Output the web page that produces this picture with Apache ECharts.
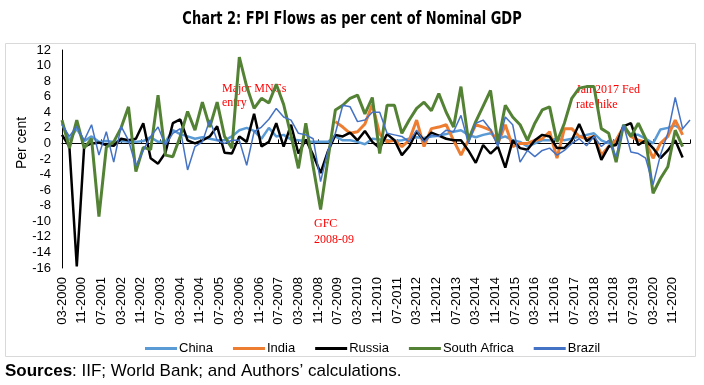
<!DOCTYPE html>
<html>
<head>
<meta charset="utf-8">
<script src="https://cdn.jsdelivr.net/npm/echarts@6/dist/echarts.min.js"></script>
<style>html,body{margin:0;padding:0;background:#fff}#c{width:704px;height:385px}</style>
</head>
<body>
<div id="c"></div>
<script>
// Quarterly observations, first point = 03-2000, one value per quarter
const seriesNames = ['China', 'India', 'Russia', 'South Africa', 'Brazil'];
const tickLabels = ['03-2000','11-2000','07-2001','03-2002','11-2002','07-2003','03-2004','11-2004','07-2005','03-2006','11-2006','07-2007','03-2008','11-2008','07-2009','03-2010','11-2010','07-2011','03-2012','11-2012','07-2013','03-2014','11-2014','07-2015','03-2016','11-2016','07-2017','03-2018','11-2018','07-2019','03-2020','11-2020'];

const china = [2.6,0.4,1.9,0.3,0.9,0.2,0.3,0.2,0.3,0.2,0.2,0.3,0.8,0.2,0.2,
  1.7,1.2,0.9,0.6,0.8,0.6,0.4,0.4,0.9,1.7,2.0,1.6,0.6,2.0,
  0.9,1.1,0.5,0.4,0.3,0.2,0.2,0.2,0.9,0.4,0.4,0.2,-0.1,0.6,0.5,
  0.4,0.3,0.4,0.6,0.8,0.7,0.9,1.0,1.2,1.5,1.7,1.1,0.8,1.1,
  1.3,0.6,0.9,0.4,0.2,-0.4,0.0,0.4,0.4,0.6,0.4,0.6,0.9,1.1,
  1.3,0.4,0.0,0.4,2.1,1.1,1.1,0.6,0.0,1.8,2.0,2.3,1.7];

const india = [null,null,null,null,null,null,null,null,null,null,null,null,null,null,null,
  null,null,null,null,null,null,null,null,null,null,null,null,null,null,
  null,null,null,null,null,null,null,null,2.8,2.1,1.3,1.5,2.5,5.0,1.2,
  0.2,0.4,-0.4,0.4,3.0,-0.4,1.9,2.1,2.4,0.4,-1.5,0.4,2.4,2.1,
  1.7,0.0,2.4,-0.4,0.0,0.0,0.4,0.6,1.5,-1.9,1.9,1.9,0.9,0.6,
  0.9,-1.5,-0.4,0.4,2.1,0.9,0.4,0.2,-1.9,0.0,0.9,3.0,1.1];

const russia = [1.1,-0.4,-15.8,-0.4,0.0,0.1,-0.2,-0.3,0.6,0.4,0.6,2.6,-1.9,-2.6,-1.2,
  2.6,3.1,0.4,0.0,0.4,0.9,2.2,-1.2,-1.3,0.9,0.2,3.8,-0.4,0.2,
  2.6,-0.4,2.4,-1.3,0.5,-1.5,-3.8,-1.0,1.1,0.9,1.4,0.4,1.6,0.2,-0.6,
  1.2,0.4,-1.5,-0.4,1.5,0.4,1.4,1.0,0.6,0.4,0.4,-0.9,-2.5,-0.2,
  -1.3,-0.4,-3.1,0.4,-0.6,-0.8,0.4,1.1,0.9,-0.6,-0.6,0.4,2.5,0.3,
  0.9,-2.1,-0.4,-0.2,2.2,2.6,-0.2,0.4,-0.6,-1.9,-0.9,0.4,-1.8];

const southAfrica = [3.0,-0.6,3.0,-0.6,0.6,-9.4,-0.5,0.2,2.0,4.7,-3.6,-0.5,-0.8,6.2,-1.5,
  -1.7,0.9,4.1,1.7,5.3,2.1,5.3,0.9,-0.6,11.1,7.3,4.5,5.8,5.2,
  7.6,5.0,1.0,-3.2,2.6,-3.0,-8.5,-2.0,4.3,4.9,5.8,6.2,3.8,5.9,-1.3,
  4.9,4.9,1.3,3.0,4.5,5.3,4.2,6.4,4.0,2.1,7.3,0.4,2.8,4.8,
  6.8,0.0,4.9,3.4,2.4,0.4,2.6,4.3,4.7,0.2,2.6,5.8,7.1,7.3,
  7.3,1.9,1.3,-2.4,2.4,0.9,2.6,0.6,-6.4,-4.5,-3.0,1.7,-0.4];

const brazil = [2.4,0.9,2.2,0.4,2.4,-1.5,1.5,-2.4,2.2,0.4,-2.9,-0.9,0.9,2.1,-0.2,
  1.3,1.9,-3.4,-0.4,0.2,3.0,0.4,0.0,0.4,0.4,-2.8,1.5,2.1,3.1,
  4.5,3.4,3.0,1.3,1.1,0.6,-4.9,-0.9,1.3,4.9,4.7,2.8,3.0,4.0,4.0,
  1.3,1.1,0.9,0.2,1.7,0.2,1.1,0.9,1.7,1.5,3.6,0.0,2.6,3.0,
  1.8,-0.4,3.4,2.4,-2.4,-0.9,-1.7,-0.9,-0.6,-1.5,-0.9,0.0,0.6,-0.3,
  0.9,-0.4,0.4,-1.7,2.4,-1.1,-1.3,-1.9,-5.3,-1.5,1.3,5.9,1.9,3.0];

const colors = ['#5B9BD5', '#ED7D31', '#000000', '#548235', '#4472C4'];
const widths = [2.5, 3, 2.5, 3, 1.5];
const values = [china, india, russia, southAfrica, brazil];

// month offset from 03-2000 for each quarterly point
function toPairs(arr) { return arr.map((v, i) => [i * 3, v]); }

const FONT = "'Liberation Sans', Arial, sans-serif";
const SERIF = "'Liberation Serif', 'Times New Roman', serif";

const chart = echarts.init(document.getElementById('c'), null, { renderer: 'canvas' });
chart.setOption({
  backgroundColor: '#ffffff',
  animation: false,
  grid: { left: 62, right: 14, top: 50, bottom: 117 },
  legend: {
    data: seriesNames,
    left: 140, top: 337,
    icon: 'rect', itemWidth: 32, itemHeight: 3, itemGap: 20,
    textStyle: { fontFamily: FONT, fontSize: 13, color: '#000', padding: [0, 0, 0, -3] }
  },
  xAxis: [{
    type: 'value', min: 0, max: 255, interval: 8,
    axisLine: { show: false, onZero: false },
    axisTick: { show: false },
    splitLine: { show: false },
    axisLabel: {
      rotate: 90, margin: 9, fontFamily: FONT, fontSize: 13, color: '#000',
      showMinLabel: true, showMaxLabel: true,
      formatter: v => (v % 8 === 0 && tickLabels[v / 8]) ? tickLabels[v / 8] : ''
    }
  }, {
    type: 'value', min: 0, max: 255, interval: 8,
    axisLine: { show: true, onZero: true, lineStyle: { color: '#000', width: 1 } },
    axisTick: { show: true, length: 4, lineStyle: { color: '#000' } },
    axisLabel: { show: false },
    splitLine: { show: false }
  }],
  yAxis: {
    type: 'value', min: -16, max: 12, interval: 2,
    axisLine: { show: true, onZero: false, lineStyle: { color: '#000', width: 1 } },
    axisTick: { show: false },
    splitLine: { show: false },
    axisLabel: { fontFamily: FONT, fontSize: 13, color: '#000', margin: 11 }
  },
  series: seriesNames.map((n, k) => ({
    name: n, type: 'line', xAxisIndex: 0,
    data: toPairs(values[k]),
    showSymbol: false, symbol: 'none',
    connectNulls: false,
    itemStyle: { color: colors[k] },
    lineStyle: { color: colors[k], width: widths[k] },
    z: 2 + k
  })),
  graphic: [
    { type: 'rect', shape: { x: 5.5, y: 43.5, width: 690, height: 313 },
      style: { fill: 'none', stroke: '#D9D9D9', lineWidth: 1 }, z: -1 },
    { type: 'text', x: 352, y: 20, scaleX: 0.85,
      style: { text: 'Chart 2: FPI Flows as per cent of Nominal GDP', x: 0, y: 0,
      textAlign: 'center', textVerticalAlign: 'middle',
      font: "bold 17px 'Liberation Sans Narrow', 'Arial Narrow', 'DejaVu Sans Condensed', sans-serif", fill: '#000' } },
    { type: 'text', rotation: Math.PI / 2, x: 22, y: 143,
      style: { text: 'Per cent', x: 0, y: 0, textAlign: 'center', textVerticalAlign: 'middle',
        font: "14px " + FONT, fill: '#000' } },
    { type: 'text', style: { text: 'Major MNCs\nentry', x: 222, y: 82, font: '12px ' + SERIF,
      fill: '#FF0000', lineHeight: 14, textVerticalAlign: 'top' } },
    { type: 'text', style: { text: 'GFC\n2008-09', x: 314, y: 216, font: '12px ' + SERIF,
      fill: '#FF0000', lineHeight: 16, textVerticalAlign: 'top' } },
    { type: 'text', style: { text: 'Jan 2017 Fed\nrate hike', x: 576, y: 82, font: '12px ' + SERIF,
      fill: '#FF0000', lineHeight: 15, textVerticalAlign: 'top' } },
    { type: 'text', style: { text: '{a|Sources}{b|: IIF; World Bank; and Authors\u2019 calculations.}', x: 5, y: 371,
      textVerticalAlign: 'middle',
      rich: { a: { fontFamily: FONT, fontSize: 17, fontWeight: 'bold', fill: '#000', color: '#000' },
              b: { fontFamily: FONT, fontSize: 17, fill: '#000', color: '#000' } } } }
  ]
});
</script>
</body>
</html>
